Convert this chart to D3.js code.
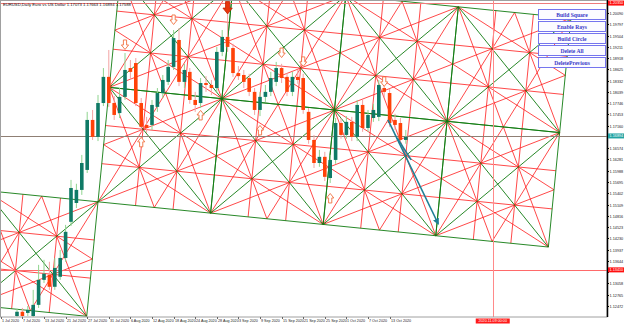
<!DOCTYPE html>
<html>
<head>
<meta charset="utf-8">
<script src="https://cdn.jsdelivr.net/npm/d3@7"></script>
<style>
body { margin: 0; background: #fff; }
svg { display: block; }
</style>
</head>
<body>
<svg id="chart" width="625" height="324"></svg>
<script>
// daily candles, [open, high, low, close]
var candles = [
  [1.1221,1.1240,1.1214,1.1232],[1.1232,1.1242,1.1214,1.1221],[1.1229,1.1247,1.1221,1.1237],
  [1.1221,1.1289,1.1216,1.1250],[1.1250,1.1354,1.1242,1.1315],[1.1315,1.1367,1.1307,1.1331],
  [1.1328,1.1362,1.1289,1.1297],[1.1297,1.1372,1.1289,1.1346],[1.1323,1.1393,1.1315,1.1372],
  [1.1372,1.1458,1.1362,1.1440],[1.1466,1.1575,1.1455,1.1554],[1.1515,1.1565,1.1502,1.1549],
  [1.1549,1.1640,1.1536,1.1619],[1.1601,1.1752,1.1593,1.1731],[1.1731,1.1757,1.1679,1.1687],
  [1.1687,1.1796,1.1676,1.1775],[1.1775,1.1866,1.1767,1.1843],[1.1843,1.1913,1.1765,1.1775],
  [1.1775,1.1793,1.1731,1.1744],[1.1749,1.1814,1.1736,1.1791],[1.1791,1.1905,1.1783,1.1861],
  [1.1866,1.1887,1.1835,1.1856],[1.1879,1.1892,1.1767,1.1775],[1.1775,1.1788,1.1700,1.1713],
  [1.1718,1.1739,1.1697,1.1710],[1.1718,1.1783,1.1705,1.1770],[1.1765,1.1814,1.1752,1.1801],
  [1.1801,1.1848,1.1788,1.1835],[1.1830,1.1887,1.1822,1.1869],[1.1869,1.1965,1.1861,1.1944],
  [1.1939,1.1970,1.1819,1.1830],[1.1830,1.1877,1.1814,1.1861],[1.1856,1.1866,1.1773,1.1783],
  [1.1783,1.1804,1.1752,1.1770],[1.1775,1.1840,1.1762,1.1827],[1.1827,1.1845,1.1804,1.1822],
  [1.1822,1.1835,1.1796,1.1814],[1.1814,1.1921,1.1804,1.1908],[1.1908,1.1965,1.1897,1.1947],
  [1.1947,1.2009,1.1908,1.1921],[1.1918,1.1929,1.1843,1.1853],[1.1853,1.1871,1.1835,1.1845],
  [1.1848,1.1861,1.1814,1.1830],[1.1840,1.1851,1.1793,1.1804],[1.1804,1.1814,1.1744,1.1757],
  [1.1757,1.1804,1.1741,1.1791],[1.1791,1.1822,1.1778,1.1804],[1.1804,1.1856,1.1793,1.1840],
  [1.1830,1.1882,1.1819,1.1866],[1.1866,1.1877,1.1827,1.1840],[1.1843,1.1853,1.1793,1.1804],
  [1.1804,1.1856,1.1793,1.1843],[1.1843,1.1861,1.1825,1.1835],[1.1840,1.1851,1.1747,1.1757],
  [1.1752,1.1762,1.1669,1.1679],[1.1679,1.1692,1.1606,1.1619],[1.1619,1.1653,1.1609,1.1635],
  [1.1635,1.1648,1.1572,1.1583],[1.1580,1.1640,1.1567,1.1627],[1.1627,1.1736,1.1617,1.1723],
  [1.1723,1.1736,1.1682,1.1692],[1.1692,1.1741,1.1682,1.1726],[1.1726,1.1739,1.1676,1.1687],
  [1.1687,1.1783,1.1676,1.1770],[1.1770,1.1783,1.1700,1.1710],[1.1710,1.1757,1.1700,1.1744],
  [1.1736,1.1773,1.1726,1.1757],[1.1739,1.1835,1.1728,1.1822],[1.1814,1.1840,1.1788,1.1804],
  [1.1801,1.1812,1.1713,1.1723],[1.1731,1.1747,1.1705,1.1718],[1.1723,1.1736,1.1669,1.1679],
  [1.1679,1.1705,1.1669,1.1687]
];

var dateBars = [-3,1,5,9,13,17,21,25,29,33,37,41,45,49,53,57,61,65,69];
var dateLabels = ["1 Jul 2020","7 Jul 2020","13 Jul 2020","21 Jul 2020","27 Jul 2020","31 Jul 2020",
  "6 Aug 2020","12 Aug 2020","18 Aug 2020","24 Aug 2020","28 Aug 2020","3 Sep 2020","9 Sep 2020",
  "15 Sep 2020","21 Sep 2020","25 Sep 2020","1 Oct 2020","7 Oct 2020","13 Oct 2020"];

var priceTicks = [1.20090,1.19797,1.19504,1.19211,1.18918,1.18625,1.18332,1.18039,1.17746,
  1.17453,1.17160,1.16867,1.16574,1.16281,1.15988,1.15695,1.15402,1.15109,1.14816,1.14523,
  1.14230,1.13937,1.13644,1.13351,1.13058,1.12765,1.12472];

// horizontal levels: top line, current price, red line
var levelPrices = [1.20350, 1.16894, 1.13410];
var levelColors = ["#ee7b7b", "#8f7f74", "#ff6a6a"];
var levelBoxes = ["#ff1010", "#22a3a3", "#ff1010"];
var vlineBar = 88.1;
var vlineLabel = "2020.11.09 00:00";

// gann square lattice: origin node and the two step vectors (bars, price)
var gannOrigin = {bar: 15, price: 1.1518};
var gannU = {bars: 20.85, price: -0.00294};
var gannV = {bars: 2.09, price: 0.02977};
var gannCells = [[-1,-1],[0,0],[1,0],[2,0],[3,0],[0,1],[1,1],[2,1],[3,1]];

// arrow signals: bar, price
var downArrows = [[20,1.1926],[29,1.1991],[49,1.1905],[53,1.1882],[68,1.1830]];
var upArrows = [[23,1.1674],[34,1.1744],[45,1.1705],[58,1.1528]];
var bigArrow = [39, 1.2022];

// teal trend lines [bar1, price1, bar2, price2]
var trendLines = [[68.7,1.1731,78.0,1.1461],[70.4,1.1684,73.0,1.1627]];

var buttons = ["Build Square","Enable Rays","Build Circle","Delete All","DeletePrevious"];

var W = 607, H = 317;
var x = d3.scaleLinear().domain([0, 72]).range([17, 405.8]);
var y = d3.scaleLinear().domain([1.2043, 1.1221]).range([0, 316]);

var svg = d3.select("#chart");
svg.append("rect").attr("width", 625).attr("height", 324).attr("fill", "#fff");
svg.append("defs").append("clipPath").attr("id", "plot")
  .append("rect").attr("width", W).attr("height", H);
var g = svg.append("g").attr("clip-path", "url(#plot)");

function node(i, j) {
  return [x(gannOrigin.bar + i * gannU.bars + j * gannV.bars),
          y(gannOrigin.price + i * gannU.price + j * gannV.price)];
}

var greenSegs = [], redSegs = [];
gannCells.forEach(function(c) {
  function P(s, t) { return node(c[0] + s, c[1] + t); }
  greenSegs.push([P(0,0),P(1,0)],[P(1,0),P(1,1)],[P(1,1),P(0,1)],[P(0,1),P(0,0)],
                 [P(0,0),P(1,1)],[P(1,0),P(0,1)]);
  redSegs.push([P(0,0),P(1,.5)],[P(0,0),P(.5,1)],[P(1,0),P(0,.5)],[P(1,0),P(.5,1)],
               [P(1,1),P(0,.5)],[P(1,1),P(.5,0)],[P(0,1),P(1,.5)],[P(0,1),P(.5,0)]);
  redSegs.push([P(0,1/3),P(1,1/3)],[P(0,2/3),P(1,2/3)],[P(1/3,0),P(1/3,1)],[P(2/3,0),P(2/3,1)]);
});

var line = d3.line();
g.selectAll(".red").data(redSegs).enter().append("path")
  .attr("d", line).attr("stroke", "#ff1a1a").attr("stroke-width", 0.8).attr("fill", "none");
g.selectAll(".green").data(greenSegs).enter().append("path")
  .attr("d", line).attr("stroke", "#107a10").attr("stroke-width", 0.9).attr("fill", "none");

// levels
g.selectAll(".lvl").data(levelPrices).enter().append("line")
  .attr("x1", 0).attr("x2", W)
  .attr("y1", function(d) { return Math.round(y(d)) + 0.5; })
  .attr("y2", function(d) { return Math.round(y(d)) + 0.5; })
  .attr("stroke", function(d, i) { return levelColors[i]; });
g.append("line").attr("x1", Math.round(x(vlineBar)) + 0.5).attr("x2", Math.round(x(vlineBar)) + 0.5)
  .attr("y1", 0).attr("y2", H).attr("stroke", "#ff8a8a");

// candles
var cw = 3.6;
var cg = g.selectAll(".candle").data(candles).enter().append("g");
cg.append("line")
  .attr("x1", function(d, i) { return x(i); }).attr("x2", function(d, i) { return x(i); })
  .attr("y1", function(d) { return y(d[1]); }).attr("y2", function(d) { return y(d[2]); })
  .attr("stroke", function(d) { return d[3] >= d[0] ? "#8fd48f" : "#f3a3a3"; })
  .attr("stroke-width", 1);
cg.append("rect")
  .attr("x", function(d, i) { return x(i) - cw / 2; })
  .attr("y", function(d) { return y(Math.max(d[0], d[3])); })
  .attr("width", cw)
  .attr("height", function(d) { return Math.max(1, Math.abs(y(d[0]) - y(d[3]))); })
  .attr("fill", function(d) { return d[3] >= d[0] ? "#0f7a66" : "#ff4208"; });

// outlined arrows
var arrowShape = "M-1.6,-5 L1.6,-5 L1.6,0 L3.6,0 L0,4.5 L-3.6,0 L-1.6,0 Z";
g.selectAll(".dn").data(downArrows).enter().append("path")
  .attr("d", arrowShape)
  .attr("transform", function(d) { return "translate(" + x(d[0]) + "," + y(d[1]) + ")"; })
  .attr("fill", "#fff").attr("stroke", "#f07040").attr("stroke-width", 0.9);
g.selectAll(".up").data(upArrows).enter().append("path")
  .attr("d", arrowShape)
  .attr("transform", function(d) { return "translate(" + x(d[0]) + "," + y(d[1]) + ") rotate(180)"; })
  .attr("fill", "#fff").attr("stroke", "#f07040").attr("stroke-width", 0.9);
g.append("path").attr("d", arrowShape)
  .attr("transform", "translate(" + x(bigArrow[0]) + "," + y(bigArrow[1]) + ") scale(1.3)")
  .attr("fill", "#e8360c").attr("stroke", "#c02000").attr("stroke-width", 0.6);

// teal trend lines
svg.append("defs").append("marker").attr("id", "ah").attr("viewBox", "0 0 10 10")
  .attr("refX", 8).attr("refY", 5).attr("markerWidth", 4).attr("markerHeight", 4)
  .attr("orient", "auto").append("path").attr("d", "M0,0 L10,5 L0,10 Z").attr("fill", "#1f7f95");
g.selectAll(".trend").data(trendLines).enter().append("line")
  .attr("x1", function(d) { return x(d[0]); }).attr("y1", function(d) { return y(d[1]); })
  .attr("x2", function(d) { return x(d[2]); }).attr("y2", function(d) { return y(d[3]); })
  .attr("stroke", "#1f7f95").attr("stroke-width", 1.6)
  .attr("marker-end", function(d, i) { return i === 0 ? "url(#ah)" : null; });

// frame and axes
svg.append("rect").attr("x", 0.5).attr("y", 0.5).attr("width", W - 0.5).attr("height", H - 0.5)
  .attr("fill", "none").attr("stroke", "#a0a0a0");
svg.append("line").attr("x1", W + 0.5).attr("x2", W + 0.5).attr("y1", 0).attr("y2", H)
  .attr("stroke", "#000").attr("stroke-width", 1.5);

var font = "Liberation Sans, Arial, sans-serif";
var yt = svg.append("g");
priceTicks.forEach(function(p) {
  var yy = Math.round(y(p)) + 0.5;
  var hidden = levelPrices.some(function(l) { return Math.abs(y(l) - yy) < 4.5; });
  yt.append("line").attr("x1", W).attr("x2", W + 2).attr("y1", yy).attr("y2", yy).attr("stroke", "#000");
  if (hidden) return;
  yt.append("text").attr("x", W + 2.5).attr("y", yy + 1.4).attr("font-family", font)
    .attr("font-size", 3.8).attr("fill", "#222").text(p.toFixed(5));
});
levelPrices.forEach(function(p, i) {
  var yy = y(p);
  var top = Math.max(0, yy - 2.5);
  yt.append("rect").attr("x", W + 1).attr("y", top).attr("width", 16).attr("height", 5)
    .attr("fill", levelBoxes[i]);
  yt.append("text").attr("x", W + 2.5).attr("y", top + 3.9).attr("font-family", font)
    .attr("font-size", 3.8).attr("fill", "#fff").text(p.toFixed(5));
});

var xt = svg.append("g");
dateBars.forEach(function(b, i) {
  var xx = Math.round(x(b)) + 0.5;
  xt.append("line").attr("x1", xx).attr("x2", xx).attr("y1", H).attr("y2", H + 2).attr("stroke", "#666");
  xt.append("text").attr("x", xx + 0.5).attr("y", H + 5.3).attr("font-family", font)
    .attr("font-size", 3.7).attr("fill", "#222").text(dateLabels[i]);
});
var vx = x(vlineBar);
xt.append("rect").attr("x", vx - 17).attr("y", H + 1.5).attr("width", 34).attr("height", 5).attr("fill", "#ff1a1a");
xt.append("text").attr("x", vx).attr("y", H + 5.3).attr("text-anchor", "middle").attr("font-family", font)
  .attr("font-size", 3.7).attr("fill", "#fff").text(vlineLabel);

// title
svg.append("text").attr("x", 3).attr("y", 6).attr("font-family", font).attr("font-size", 4.2)
  .attr("fill", "#111").text("EURUSD,Daily  Euro vs US Dollar  1.17073 1.17663 1.16894 1.17588");

// buttons
var bg = svg.selectAll(".btn").data(buttons).enter().append("g")
  .attr("transform", function(d, i) { return "translate(538.5," + (9.5 + i * 12) + ")"; });
bg.append("rect").attr("width", 67).attr("height", 10).attr("fill", "#fbfbff")
  .attr("stroke", "#7474ee").attr("stroke-width", 1);
bg.append("text").attr("x", 33.5).attr("y", 7).attr("text-anchor", "middle")
  .attr("font-family", "Liberation Serif, Times New Roman, serif").attr("font-weight", "bold")
  .attr("font-size", 5.6).attr("fill", "#3a3ac8").text(function(d) { return d; });
</script>
</body>
</html>
